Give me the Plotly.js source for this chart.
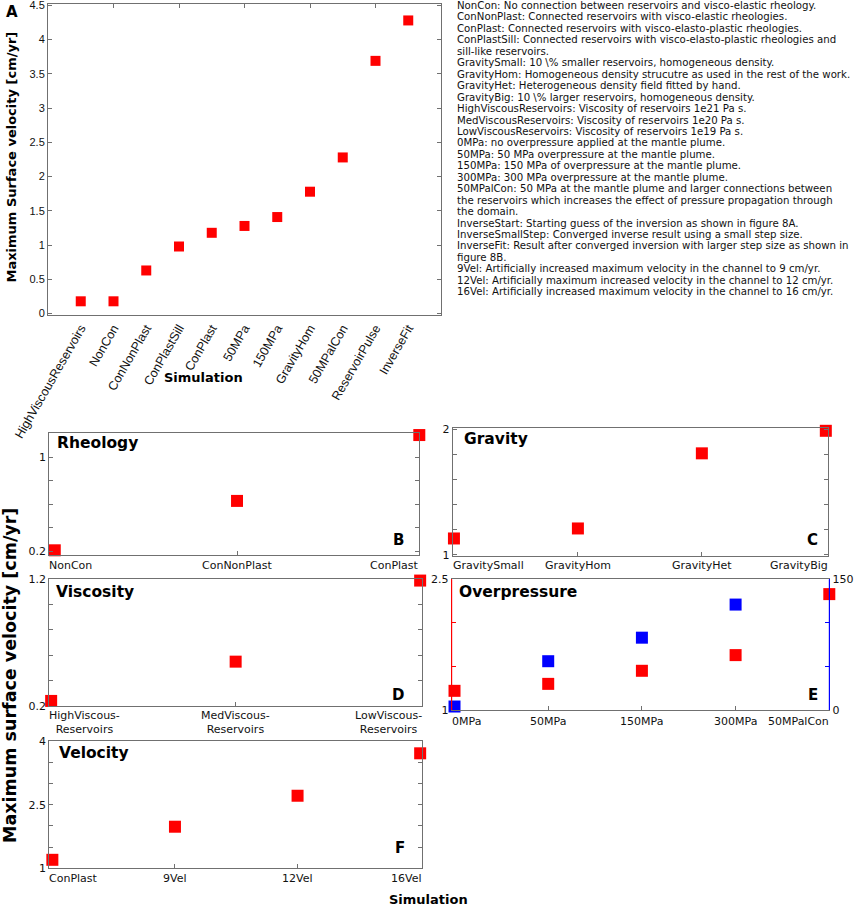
<!DOCTYPE html>
<html><head><meta charset="utf-8">
<script src="https://cdn.plot.ly/plotly-3.0.1.min.js"></script>
<style>html,body{margin:0;padding:0;background:#fff}</style>
</head><body><div id="chart" style="width:856px;height:907px"></div>
<script>
// ---------- data ----------
const simA = ['HighViscousReservoirs','NonCon','ConNonPlast','ConPlastSill','ConPlast','50MPa','150MPa','GravityHom','50MPalCon','ReservoirPulse','InverseFit'];
const velA = [0.18,0.18,0.63,0.98,1.18,1.28,1.41,1.78,2.28,3.69,4.28];

const rheologyCats = ['NonCon','ConNonPlast','ConPlast'];
const rheologyVel = [0.21,0.63,1.19];

const gravityCats = ['GravitySmall','GravityHom','GravityHet','GravityBig'];
const gravityVel = [1.13,1.21,1.81,1.99];

const viscosityCats = ['HighViscous-<br>Reservoirs','MedViscous-<br>Reservoirs','LowViscous-<br>Reservoirs'];
const viscosityVel = [0.24,0.55,1.19];

const overCats = ['0MPa','50MPa','150MPa','300MPa','50MPalCon'];
const overVel = [1.22,1.30,1.45,1.63,2.33];
const overBlue = [4,56,83,121];

const velCats = ['ConPlast','9Vel','12Vel','16Vel'];
const velVel = [1.2,1.98,2.71,3.71];

const descLines = [
 'NonCon: No connection between reservoirs and visco-elastic rheology.',
 'ConNonPlast: Connected reservoirs with visco-elastic rheologies.',
 'ConPlast: Connected reservoirs with visco-elasto-plastic rheologies.',
 'ConPlastSill: Connected reservoirs with visco-elasto-plastic rheologies and',
 'sill-like reservoirs.',
 'GravitySmall: 10 \\% smaller reservoirs, homogeneous density.',
 'GravityHom: Homogeneous density strucutre as used in the rest of the work.',
 'GravityHet: Heterogeneous density field fitted by hand.',
 'GravityBig: 10 \\% larger reservoirs, homogeneous density.',
 'HighViscousReservoirs: Viscosity of reservoirs 1e21 Pa s.',
 'MedViscousReservoirs: Viscosity of reservoirs 1e20 Pa s.',
 'LowViscousReservoirs: Viscosity of reservoirs 1e19 Pa s.',
 '0MPa: no overpressure applied at the mantle plume.',
 '50MPa: 50 MPa overpressure at the mantle plume.',
 '150MPa: 150 MPa of overpressure at the mantle plume.',
 '300MPa: 300 MPa overpressure at the mantle plume.',
 '50MPalCon: 50 MPa at the mantle plume and larger connections between',
 'the reservoirs which increases the effect of pressure propagation through',
 'the domain.',
 'InverseStart: Starting guess of the inversion as shown in figure 8A.',
 'InverseSmallStep: Converged inverse result using a small step size.',
 'InverseFit: Result after converged inversion with larger step size as shown in',
 'figure 8B.',
 '9Vel: Artificially increased maximum velocity in the channel to 9 cm/yr.',
 '12Vel: Artificially maximum increased velocity in the channel to 12 cm/yr.',
 '16Vel: Artificially increased maximum velocity in the channel to 16 cm/yr.'
];

// ---------- layout helpers ----------
const W = 856, H = 907;
const FONT = 'DejaVu Sans, Verdana, sans-serif';
const FONT_A = 'Liberation Sans, Arial, sans-serif';
const AX = '#707070';
const RED = '#ff0000', BLUE = '#0000ff';
function domX(l, r) { return [l / W, r / W]; }
function domY(t, b) { return [1 - b / H, 1 - t / H]; }
function idx(arr) { return arr.map((_, i) => i); }
function pann(text, px, py, o) {
  return Object.assign({text: text, xref: 'paper', yref: 'paper', x: px / W, y: 1 - py / H,
    showarrow: false, xanchor: 'center', yanchor: 'middle', font: {family: FONT, size: 11, color: '#000'}}, o || {});
}

const traces = [];
const layout = {
  width: W, height: H, margin: {l: 0, r: 0, t: 0, b: 0},
  paper_bgcolor: '#fff', plot_bgcolor: 'rgba(0,0,0,0)', showlegend: false,
  font: {family: FONT, color: '#000'}, annotations: [], shapes: []
};

// ---------- Panel A ----------
layout.xaxis = {domain: domX(48, 441), range: [-1, 11], anchor: 'y', tickvals: idx(simA), ticktext: simA,
  tickangle: -60, ticks: '', showline: true, linecolor: AX, mirror: true, showgrid: false, zeroline: false,
  tickfont: {family: FONT_A, size: 12.5, color: '#111'}};
layout.yaxis = {domain: domY(4, 315), range: [-0.02, 4.52], anchor: 'x', tick0: 0, dtick: 0.5,
  ticks: 'inside', ticklen: 4, tickcolor: AX, showline: true, linecolor: AX, mirror: 'ticks', ticklabeloverflow: 'allow',
  showgrid: false, zeroline: false, tickfont: {family: FONT_A, size: 11, color: '#111'}};
layout.xaxis7 = {overlaying: 'x', side: 'top', anchor: 'y', range: [-1, 11], tickvals: [1, 3, 5, 7, 9],
  ticks: 'inside', ticklen: 4, tickcolor: AX, showticklabels: false, showline: false, showgrid: false, zeroline: false};
traces.push({type: 'scatter', mode: 'markers', x: idx(simA), y: velA, xaxis: 'x', yaxis: 'y',
  marker: {symbol: 'square', size: 10, color: RED, line: {width: 0}}, cliponaxis: false, hoverinfo: 'skip'});
traces.push({type: 'scatter', mode: 'markers', x: [], y: [], xaxis: 'x7', yaxis: 'y', hoverinfo: 'skip'});

layout.annotations.push(pann('<b>A</b>', 11.5, 12, {font: {family: FONT, size: 15, color: '#000'}}));
layout.annotations.push(pann('<b>Maximum Surface velocity [cm/yr]</b>', 11, 157.5, {textangle: -90, font: {family: FONT, size: 13, color: '#000'}}));
layout.annotations.push(pann('<b>Simulation</b>', 203.3, 377.7, {font: {family: FONT, size: 13, color: '#000'}}));

// ---------- description text ----------
descLines.forEach((t, i) => {
  layout.annotations.push(pann(t, 455, 5.5 + i * 11.45, {xanchor: 'left', font: {family: FONT, size: 10.2, color: '#111'}}));
});

// ---------- Panels B-F ----------
const panels = [
  {n: 2, cats: rheologyCats, vals: rheologyVel, px: [49.3, 419.3], py: [432.7, 555], xr: [-0.03, 2.0], yr: [0.17, 1.21],
   yt: [0.2, 0.4, 0.6, 0.8, 1.0], ytt: ['0.2', '', '', '', '1'], title: 'Rheology', tpos: [55, 443.3], letter: 'B', lpos: [398.7, 540.3], labY: 565.7},
  {n: 3, cats: gravityCats, vals: gravityVel, px: [452.7, 828.3], py: [428.3, 556], xr: [-0.01, 3.02], yr: [0.99, 2.01],
   yt: [1, 1.2, 1.4, 1.6, 1.8, 2], ytt: ['1', '', '', '', '', '2'], title: 'Gravity', tpos: [461.7, 439], letter: 'C', lpos: [812.3, 540], labY: 565.7},
  {n: 4, cats: viscosityCats, vals: viscosityVel, px: [49.3, 422], py: [579.3, 706], xr: [-0.01, 2.01], yr: [0.2, 1.2],
   yt: [0.2, 0.4, 0.6, 0.8, 1.0, 1.2], ytt: ['0.2', '', '', '', '', '1.2'], title: 'Viscosity', tpos: [54.3, 591.7], letter: 'D', lpos: [398.3, 695], labY: 722.5},
  {n: 5, cats: overCats, vals: overVel, px: [451.7, 829.3], py: [579.3, 710], xr: [-0.03, 4.0], yr: [1, 2.5],
   yt: [1, 1.5, 2, 2.5], ytt: ['1', '', '', '2.5'], title: 'Overpressure', tpos: [457.3, 591.7], letter: 'E', lpos: [813.3, 695], labY: 721.7, leftColor: RED},
  {n: 6, cats: velCats, vals: velVel, px: [49.3, 422], py: [741, 868.3], xr: [-0.025, 3.015], yr: [1, 4],
   yt: [1, 1.5, 2, 2.5, 3, 3.5, 4], ytt: ['1', '', '', '2.5', '', '', '4'], title: 'Velocity', tpos: [57.3, 752.7], letter: 'F', lpos: [399.7, 847.7], labY: 878.3}
];

panels.forEach(p => {
  const xn = 'x' + p.n, yn = 'y' + p.n;
  const last = p.cats.length - 1;
  const mids = idx(p.cats).slice(1, last);
  layout['xaxis' + p.n] = {domain: domX(p.px[0], p.px[1]), range: p.xr, anchor: yn, tickvals: mids,
    ticks: 'inside', ticklen: 4, tickcolor: AX, showticklabels: false, showline: true, linecolor: AX, mirror: true,
    showgrid: false, zeroline: false};
  const lc = p.leftColor || AX;
  layout['yaxis' + p.n] = {domain: domY(p.py[0], p.py[1]), range: p.yr, anchor: xn, tickvals: p.yt, ticktext: p.ytt,
    ticks: 'inside', ticklen: 4, tickcolor: lc, showline: true, linecolor: lc, linewidth: 1, mirror: p.leftColor ? false : 'ticks',
    ticklabeloverflow: 'allow', showgrid: false, zeroline: false, tickfont: {family: FONT, size: 11, color: '#111'}};
  traces.push({type: 'scatter', mode: 'markers', x: idx(p.cats), y: p.vals, xaxis: xn, yaxis: yn,
    marker: {symbol: 'square', size: 12, color: RED, line: {width: 0}}, cliponaxis: false, hoverinfo: 'skip'});
  // category labels
  p.cats.forEach((c, i) => {
    const a = {text: c, showarrow: false, font: {family: FONT, size: 11, color: '#111'}, yref: 'paper',
      y: 1 - p.labY / H, yanchor: 'middle', align: 'center'};
    if (i === 0) { a.xref = xn + ' domain'; a.x = 0; a.xanchor = 'left'; a.xshift = -2; }
    else if (i === last) { a.xref = xn + ' domain'; a.x = 1; a.xanchor = 'right'; a.xshift = 2; }
    else { a.xref = xn; a.x = i; a.xanchor = 'center'; }
    layout.annotations.push(a);
  });
  layout.annotations.push(pann('<b>' + p.title + '</b>', p.tpos[0], p.tpos[1], {xanchor: 'left', font: {family: FONT, size: 15.5, color: '#000'}}));
  layout.annotations.push(pann('<b>' + p.letter + '</b>', p.lpos[0], p.lpos[1], {font: {family: FONT, size: 15, color: '#000'}}));
});

// right axis for Overpressure panel (blue series)
layout.yaxis8 = {overlaying: 'y5', side: 'right', anchor: 'x5', range: [0, 150], tickvals: [0, 50, 100, 150], ticktext: ['0', '', '', '150'],
  ticks: 'inside', ticklen: 4, tickcolor: BLUE, showline: true, linecolor: BLUE, linewidth: 1, showgrid: false, zeroline: false,
  ticklabeloverflow: 'allow', tickfont: {family: FONT, size: 11, color: '#111'}};
traces.push({type: 'scatter', mode: 'markers', x: idx(overBlue), y: overBlue, xaxis: 'x5', yaxis: 'y8',
  marker: {symbol: 'square', size: 12, color: BLUE, line: {width: 0}}, cliponaxis: false, hoverinfo: 'skip'});

// coloured frame sides of the Overpressure panel (left red, right blue)
layout.shapes.push({type: 'line', xref: 'x5 domain', yref: 'y5 domain', x0: 0, x1: 0, y0: 0, y1: 1, line: {color: RED, width: 1}, layer: 'above'});
layout.shapes.push({type: 'line', xref: 'x5 domain', yref: 'y5 domain', x0: 1, x1: 1, y0: 0, y1: 1, line: {color: BLUE, width: 1}, layer: 'above'});

// bottom shared titles
layout.annotations.push(pann('<b>Maximum surface velocity [cm/yr]</b>', 10, 676, {textangle: -90, font: {family: FONT, size: 17.5, color: '#000'}}));
layout.annotations.push(pann('<b>Simulation</b>', 429, 899, {font: {family: FONT, size: 13, color: '#000'}}));

Plotly.newPlot('chart', traces, layout, {displayModeBar: false, staticPlot: true});
</script>
</body></html>
